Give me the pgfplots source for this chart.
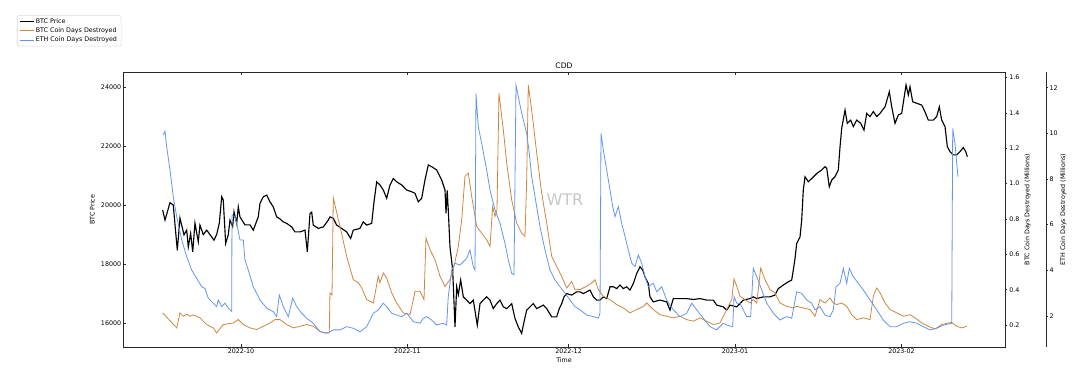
\documentclass[border=0pt]{standalone}
\usepackage{pgfplots}
\usepackage{pgfplotstable}
\pgfplotsset{compat=1.18}
\usepackage{fontspec}
\setmainfont{DejaVu Sans}
\definecolor{cddorange}{RGB}{205,133,63}
\definecolor{cddblue}{RGB}{100,149,237}
\definecolor{spine}{RGB}{40,40,40}
\newcommand{\tfont}{\fontsize{4.75}{5.5}\selectfont}
\newcommand{\ttfont}{\fontsize{5.7}{6.5}\selectfont}

% days since 2022-10-01, BTC price (USD)
\pgfplotstableread{
d p
-14.58 19830
-14.15 19490
-13.22 20080
-12.61 20000
-11.86 18470
-11.36 19560
-10.61 18990
-10.11 19150
-9.81 18580
-9.37 19040
-8.99 18415
-8.57 19390
-7.95 18755
-7.64 19320
-7.02 19000
-6.39 19150
-5.77 19000
-5.03 18810
-4.53 19000
-4.04 19380
-3.59 20280
-3.30 20170
-2.85 18700
-2.36 19000
-2.05 19490
-1.55 19270
-1.30 19770
-0.80 19380
-0.50 19940
-0.19 19600
0.74 19330
1.68 19330
2.29 19150
3.22 19600
3.54 20060
4.15 20280
4.79 20340
5.40 20110
6.01 19940
6.65 19600
7.26 19530
7.88 19430
8.51 19380
9.44 19260
10.06 19090
10.99 19090
11.92 19150
12.35 18415
12.85 19710
13.17 19760
13.46 19320
14.39 19210
15.33 19260
16.26 19490
16.57 19600
17.19 19550
17.82 19320
18.75 19210
19.68 19090
20.43 18870
20.91 19150
22.16 19210
22.77 19430
23.41 19320
24.34 19380
24.77 20110
25.27 20790
25.88 20680
26.50 20510
27.13 20230
27.75 20680
28.36 20900
28.99 20790
29.93 20680
30.86 20510
31.79 20450
32.40 20400
33.02 20110
33.65 20230
34.26 20850
34.88 21360
35.51 21300
36.44 21190
37.37 20850
37.99 20510
38.18 19720
38.40 20500
38.60 19830
38.92 18580
39.42 17800
39.85 15870
40.17 17230
40.47 16960
40.91 17460
41.40 16890
42.03 16780
42.64 16660
43.26 16780
44.00 15930
44.51 16660
45.12 16780
45.75 16890
46.37 16780
46.98 16490
47.62 16660
48.23 16780
48.85 16550
49.48 16490
50.41 16660
51.02 16160
51.64 15870
52.27 15650
52.57 15930
53.20 16440
53.82 16550
54.43 16660
55.07 16490
55.68 16550
56.30 16610
56.93 16490
57.86 16210
58.79 16210
59.27 16490
59.72 16660
60.15 16890
60.65 17000
61.58 16950
62.51 17060
63.13 17060
63.75 17000
64.99 17120
65.61 16890
66.24 16780
66.85 16780
67.47 16890
68.10 16830
68.72 17230
69.33 17230
69.96 17170
70.58 17290
71.20 17170
71.83 17230
72.44 17120
73.06 17340
73.69 17680
74.30 17910
74.80 17800
75.23 17570
75.85 17340
76.16 16890
76.78 16720
78.03 16780
79.27 16720
79.89 16440
80.50 16830
81.75 16830
83.00 16830
84.23 16800
85.47 16830
86.72 16780
87.95 16780
88.58 16610
89.81 16550
90.45 16440
91.06 16610
92.31 16550
93.54 16780
94.79 16830
95.40 16890
96.04 16830
97.26 16890
98.51 16890
99.44 16950
100.06 17170
100.99 17290
101.92 17400
102.55 17460
102.85 17800
103.17 18190
103.48 18700
104.10 18920
104.41 19490
104.71 20510
105.03 20960
105.65 20790
106.28 20900
107.21 21070
108.14 21190
108.75 21300
109.07 21250
109.55 20620
110.00 20850
110.61 20960
111.23 21190
111.55 21980
111.86 22600
112.48 23220
112.90 22770
113.54 22880
114.02 22660
114.66 22880
115.40 22770
116.01 22540
116.52 23110
117.13 23000
117.75 23170
118.38 23000
119.00 23110
119.93 23330
120.73 23840
121.17 23330
121.79 22770
122.40 23050
123.03 23110
123.84 24070
124.27 23730
124.58 24010
125.08 23500
125.83 23450
126.76 23390
127.37 23160
127.99 22880
128.92 22880
129.55 23000
130.04 23330
130.48 22880
131.10 22660
131.53 21980
132.03 21810
132.64 21700
133.28 21700
133.89 21810
134.51 21950
134.96 21810
135.25 21640
}\btcprice

% BTC coin days destroyed (millions)
\pgfplotstableread{
d c
-14.58 0.269
-11.97 0.184
-11.36 0.269
-10.74 0.250
-10.11 0.262
-9.50 0.250
-8.88 0.258
-7.64 0.241
-6.39 0.203
-5.16 0.184
-4.53 0.156
-3.30 0.203
-1.43 0.212
-0.50 0.231
0.43 0.203
1.68 0.184
2.92 0.175
4.15 0.193
5.40 0.212
6.33 0.231
7.26 0.231
8.51 0.203
9.74 0.184
10.99 0.193
12.23 0.203
13.46 0.193
14.71 0.165
15.64 0.156
16.44 0.156
16.57 0.382
16.95 0.370
17.19 0.919
18.44 0.758
19.68 0.589
20.91 0.457
21.84 0.440
22.48 0.410
23.41 0.344
24.64 0.325
25.57 0.476
25.88 0.440
26.50 0.495
27.13 0.466
28.06 0.382
28.99 0.325
30.22 0.269
31.47 0.260
32.09 0.344
32.40 0.391
33.33 0.391
34.08 0.344
34.45 0.693
35.20 0.627
36.13 0.570
37.06 0.476
37.99 0.419
38.92 0.457
39.53 0.514
40.47 0.645
41.10 0.796
41.71 1.041
42.33 1.060
42.96 0.928
43.89 0.758
44.82 0.720
45.75 0.683
46.37 0.645
46.87 0.871
47.30 0.815
47.67 0.850
48.04 1.512
48.85 1.305
49.48 1.116
50.41 0.909
51.34 0.777
52.27 0.720
52.89 0.702
53.20 1.022
53.50 1.559
54.13 1.418
55.07 1.173
55.99 0.947
56.93 0.777
57.86 0.589
58.79 0.532
59.72 0.475
60.65 0.410
61.58 0.447
62.20 0.400
63.13 0.401
64.38 0.420
65.31 0.438
65.92 0.457
66.54 0.401
67.47 0.363
68.72 0.344
69.96 0.316
71.20 0.297
72.44 0.269
73.69 0.288
74.92 0.306
75.55 0.325
76.78 0.288
78.03 0.259
79.27 0.250
80.50 0.241
81.75 0.250
83.00 0.231
84.23 0.222
85.47 0.241
86.72 0.222
87.95 0.203
89.20 0.212
90.45 0.288
91.38 0.344
91.81 0.461
92.31 0.420
92.92 0.363
93.85 0.344
94.79 0.325
95.40 0.344
96.04 0.325
96.78 0.523
97.58 0.457
98.51 0.401
99.44 0.382
100.37 0.325
101.62 0.306
102.85 0.297
103.48 0.306
104.71 0.297
105.96 0.288
106.89 0.250
107.82 0.344
108.75 0.325
109.68 0.354
110.30 0.325
110.93 0.316
111.86 0.325
112.79 0.306
113.72 0.259
114.66 0.231
115.89 0.241
117.13 0.231
117.75 0.363
118.38 0.410
119.00 0.382
119.93 0.325
120.86 0.288
122.10 0.269
123.35 0.250
124.58 0.259
125.51 0.241
126.76 0.212
127.99 0.193
129.24 0.178
130.48 0.203
131.72 0.212
132.35 0.215
133.28 0.193
134.21 0.184
135.14 0.193
}\btccdd

% ETH coin days destroyed (millions)
\pgfplotstableread{
d e
-14.47 9.93
-14.15 10.10
-13.84 9.42
-13.22 8.40
-12.61 7.23
-11.97 6.35
-11.04 5.33
-10.11 4.60
-9.18 4.01
-8.25 3.65
-7.32 3.28
-6.70 3.20
-6.09 2.78
-5.16 2.56
-4.53 2.41
-4.23 2.70
-3.59 2.41
-2.98 2.56
-2.36 2.34
-1.73 2.19
-1.68 6.42
-1.12 6.35
-0.80 6.06
-0.19 5.33
0.43 5.33
0.74 4.45
1.36 4.01
2.29 3.28
3.54 2.70
4.79 2.34
6.01 2.19
6.65 1.97
7.13 2.92
7.88 2.41
8.81 1.97
9.63 2.78
10.37 2.41
11.30 2.12
12.23 1.90
13.46 1.68
14.71 1.31
15.96 1.24
17.19 1.39
18.44 1.39
19.68 1.53
20.91 1.46
22.16 1.31
23.41 1.53
24.64 2.12
25.57 2.26
26.50 2.56
27.13 2.41
28.06 2.12
28.99 2.04
29.93 1.97
30.86 2.12
32.09 1.75
33.33 1.68
33.95 1.90
34.58 1.97
35.51 1.82
36.44 1.61
37.67 1.68
38.30 1.60
38.60 2.85
39.23 4.01
39.85 4.31
40.78 4.23
41.40 4.38
42.03 4.53
42.64 4.89
43.26 4.16
43.58 4.01
43.76 11.75
44.19 10.29
44.82 9.56
45.75 8.40
46.37 7.52
47.30 6.64
48.23 6.06
49.16 5.18
49.78 4.45
50.41 3.87
50.84 3.80
51.21 12.12
51.64 11.61
52.27 10.88
52.57 10.60
53.20 10.00
53.69 9.13
54.13 8.10
54.75 7.23
55.68 5.91
56.61 4.89
57.54 4.01
58.47 3.58
59.40 3.28
60.34 3.00
61.27 2.70
62.20 2.41
63.13 2.27
64.38 2.04
65.61 1.97
66.54 1.90
66.85 2.12
67.04 10.00
67.47 9.27
68.10 8.40
68.72 7.52
69.22 6.79
69.65 6.35
70.26 6.79
70.89 6.06
71.83 5.18
72.76 4.31
73.37 4.16
73.99 4.67
74.62 4.31
75.23 3.72
75.85 3.28
76.78 3.43
77.41 3.06
78.34 3.28
79.27 2.70
80.50 2.27
81.75 1.97
83.00 2.12
83.93 2.56
84.86 2.27
86.09 1.90
87.34 1.53
88.58 1.39
89.81 1.68
90.45 1.60
91.56 1.53
91.81 2.85
92.31 2.56
92.92 2.56
94.17 1.97
94.91 1.97
95.40 4.09
96.04 3.72
96.97 3.14
97.90 2.56
99.13 2.12
100.37 1.82
101.62 1.97
102.55 1.90
103.48 3.06
104.41 2.99
105.35 2.70
106.28 2.56
106.89 2.27
107.82 2.41
108.75 2.04
109.68 1.97
110.30 2.27
110.80 3.28
111.55 3.43
112.17 4.09
112.79 3.43
113.28 4.09
114.02 3.72
114.95 3.43
115.89 3.14
117.13 2.70
118.38 2.27
119.61 1.82
120.86 1.53
122.10 1.53
123.35 1.68
124.58 1.75
125.83 1.68
127.07 1.53
128.31 1.39
129.55 1.46
130.78 1.60
132.35 1.68
132.53 10.22
132.96 9.56
133.28 8.69
133.52 8.10
}\ethcdd

\pgfplotsset{
  common/.style={
    scale only axis, width=661.5pt, height=206.25pt,
    anchor=south west,
    xmin=-21.97, xmax=142.27,
    tick align=outside, major tick length=1.5pt,
    every tick/.style={spine, line width=0.5pt},
    axis line style={spine, line width=0.6pt},
    every tick label/.append style={font=\tfont, text=black},
    label style={font=\tfont},
    /pgf/number format/assume math mode=true,
    /pgf/number format/1000 sep={},
    scaled y ticks=false,
  },
}

\begin{document}
\begin{tikzpicture}
\path[use as bounding box] (-92.25pt,-30.75pt) rectangle (715.5pt,260.25pt);

% main axis: BTC price
\begin{axis}[common, at={(0pt,0pt)},
  tick align=inside, major tick length=2pt,
  xtick={0,31,61,92,123},
  xticklabels={2022-10,2022-11,2022-12,2023-01,2023-02},
  xtick pos=both, ytick pos=left,
  xticklabel pos=bottom,
  xticklabel style={inner sep=1pt},
  ymin=15190, ymax=24510,
  ytick={16000,18000,20000,22000,24000},
  yticklabel style={inner sep=1.2pt},
  ylabel={BTC Price},
  ylabel style={at={(axis description cs:-0.0348,0.5)}, anchor=center},
  xlabel={Time},
  xlabel style={at={(axis description cs:0.5,-0.049)}, anchor=center},
  every axis title shift=0pt,
  title={CDD},
  title style={at={(axis description cs:0.5,1.022)}, anchor=center, font=\ttfont},
  legend style={at={(-0.1202,1.207)}, anchor=north west, draw=black!15,
    rounded corners=1.5pt, fill=white, font=\tfont,
    inner xsep=2pt, inner ysep=1.2pt, row sep=0pt,
    nodes={inner sep=1.1pt, text height=3.6pt, text depth=1.1pt}},
  legend cell align=left,
  legend image code/.code={\draw[#1] (0pt,0pt) -- (10pt,0pt);},
]
\addplot[black, line width=0.85pt] table[x=d, y=p] {\btcprice};
\addlegendentry{BTC Price}
\addlegendimage{cddorange, line width=0.6pt}
\addlegendentry{BTC Coin Days Destroyed}
\addlegendimage{cddblue, line width=0.6pt}
\addlegendentry{ETH Coin Days Destroyed}
\node[text=black!22, font=\fontsize{12}{14}\selectfont] at (rel axis cs:0.501,0.5345) {WTR};
\end{axis}

% BTC CDD axis (right)
\begin{axis}[common, at={(0pt,0pt)},
  axis y line*=right, axis x line=none,
  ymin=0.076, ymax=1.632,
  ytick={0.2,0.4,0.6,0.8,1.0,1.2,1.4,1.6},
  /pgf/number format/fixed,
  /pgf/number format/fixed zerofill,
  /pgf/number format/precision=1,
  yticklabel style={inner sep=1.5pt},
  ylabel={BTC Coin Days Destroyed (Millions)},
  ylabel style={at={(axis description cs:1.0257,0.5)}, anchor=center},
]
\addplot[cddorange, line width=0.6pt] table[x=d, y=c] {\btccdd};
\end{axis}

% ETH CDD data
\begin{axis}[common, at={(0pt,0pt)}, hide axis,
  ymin=0.64, ymax=12.69,
]
\addplot[cddblue, line width=0.6pt] table[x=d, y=e] {\ethcdd};
\end{axis}

% ETH CDD offset spine
\begin{axis}[common, at={(30.75pt,0pt)},
  axis y line*=right, axis x line=none,
  xmin=0, xmax=1,
  ymin=0.64, ymax=12.69,
  ytick={2,4,6,8,10,12},
  yticklabel style={inner sep=1pt},
  ylabel={ETH Coin Days Destroyed (Millions)},
  ylabel style={at={(axis description cs:1.0196,0.5)}, anchor=center},
]
\addplot[draw=none] coordinates {(0.5,5)};
\end{axis}
\end{tikzpicture}
\end{document}
